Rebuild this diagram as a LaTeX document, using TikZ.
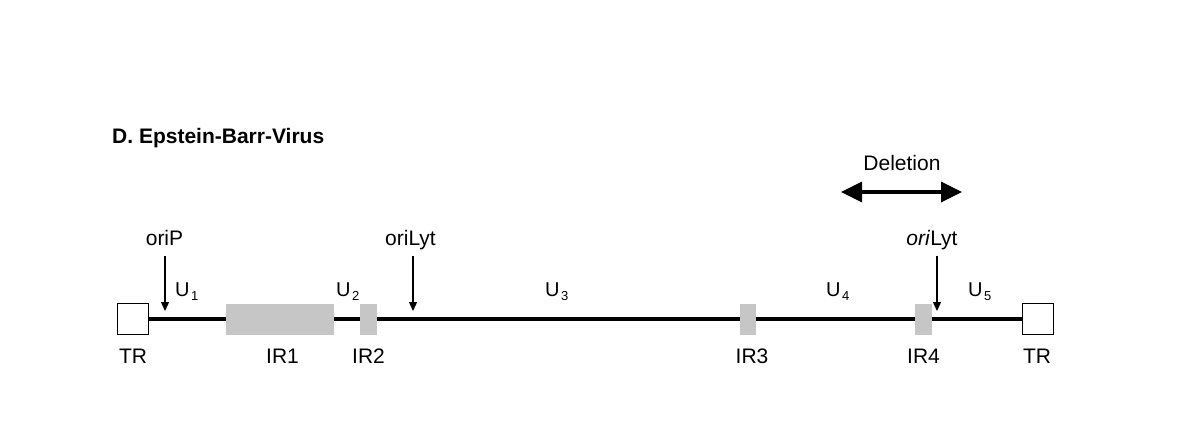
\documentclass[tikz,border=0pt]{standalone}
\usepackage{fontspec}
\setmainfont{Liberation Sans}
\usetikzlibrary{arrows.meta}
\definecolor{irgray}{HTML}{C6C6C6}
\newcommand{\useg}[1]{U\hspace{1.5pt}\raisebox{-4pt}{\fontsize{13}{13}\selectfont #1}}
\begin{document}
\begin{tikzpicture}[x=1pt,y=-1pt,
  lbl/.style={font=\fontsize{21}{25}\selectfont, inner sep=0pt, anchor=base},
  ulbl/.style={font=\fontsize{20}{24}\selectfont, inner sep=0pt, anchor=base west},
  ttl/.style={font=\fontsize{21}{25}\selectfont\bfseries, inner sep=0pt, anchor=base west},
  trbox/.style={draw, line width=1.4pt, fill=white, minimum width=31pt, minimum height=31pt, inner sep=0pt},
  irbox/.style={fill=irgray, inner sep=0pt, minimum height=31pt},
  genome/.style={line width=3.2pt},
  oriarrow/.style={line width=1.3pt, -{Triangle[length=9pt,width=8pt]}},
  delarrow/.style={line width=3.5pt, {Triangle[length=21pt,width=20pt]}-{Triangle[length=21pt,width=20pt]}}
]
\useasboundingbox (0,0) rectangle (1179,437);

% title
\node[ttl] (title) at (112,143) {D. Epstein-Barr-Virus};

% terminal repeats and genome backbone
\node[trbox] (trL) at (133,319) {};
\node[trbox] (trR) at (1038,319) {};
\draw[genome] (trL.east) -- (trR.west);

% internal repeats
\node[irbox, minimum width=108pt] (ir1) at (280,319) {};
\node[irbox, minimum width=17pt] (ir2) at (368.5,319) {};
\node[irbox, minimum width=16pt] (ir3) at (748,319) {};
\node[irbox, minimum width=17pt] (ir4) at (923.5,319) {};

% labels below the genome
\node[lbl] (trLlbl) at (133,363) {TR};
\node[lbl] (ir1lbl) at (282.5,363) {IR1};
\node[lbl] (ir2lbl) at (368.5,363) {IR2};
\node[lbl] (ir3lbl) at (752,363) {IR3};
\node[lbl] (ir4lbl) at (923.5,363) {IR4};
\node[lbl] (trRlbl) at (1037,363) {TR};

% unique regions
\node[ulbl] (u1) at (175,296) {\useg{1}};
\node[ulbl] (u2) at (336,296) {\useg{2}};
\node[ulbl] (u3) at (545,296) {\useg{3}};
\node[ulbl] (u4) at (826,296) {\useg{4}};
\node[ulbl] (u5) at (968,296) {\useg{5}};

% origins of replication
\node[lbl] (oriP) at (164.5,245) {oriP};
\node[lbl] (oriLytA) at (410.5,245) {oriLyt};
\node[lbl] (oriLytB) at (932,245) {\textit{ori}Lyt};
\coordinate (oriPtop) at (165,256);
\coordinate (oriPend) at (165,311);
\coordinate (oriLytAtop) at (413,256);
\coordinate (oriLytAend) at (413,311);
\coordinate (oriLytBtop) at (937,256);
\coordinate (oriLytBend) at (937,311);
\draw[oriarrow] (oriPtop) -- (oriPend);
\draw[oriarrow] (oriLytAtop) -- (oriLytAend);
\draw[oriarrow] (oriLytBtop) -- (oriLytBend);

% deleted region
\node[lbl] (del) at (902,170) {Deletion};
\coordinate (delL) at (841,192);
\coordinate (delR) at (962,192);
\draw[delarrow] (delL) -- (delR);
\end{tikzpicture}
\end{document}
